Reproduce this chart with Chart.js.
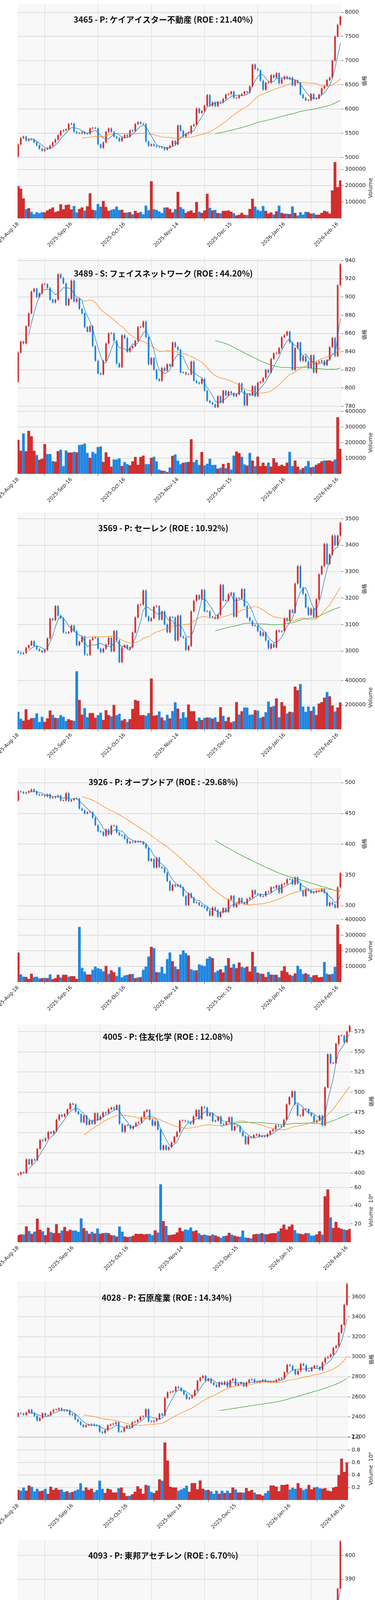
<!DOCTYPE html>
<html><head><meta charset="utf-8">
<script src="https://cdn.jsdelivr.net/npm/chart.js@4.4.1/dist/chart.umd.min.js"></script>
<style>html,body{margin:0;background:#fff}body{position:relative;width:960px;height:6554px;overflow:hidden}.p{position:absolute;left:0;width:960px;height:656px}canvas{display:block}</style>
</head><body>
<script>
// ---------------- DATA ----------------
const titles = [
 "3465 - P: ケイアイスター不動産 (ROE : 21.40%)",
 "3489 - S: フェイスネットワーク (ROE : 44.20%)",
 "3569 - P: セーレン (ROE : 10.92%)",
 "3926 - P: オープンドア (ROE : -29.68%)",
 "4005 - P: 住友化学 (ROE : 12.08%)",
 "4028 - P: 石原産業 (ROE : 14.34%)",
 "4093 - P: 東邦アセチレン (ROE : 6.70%)",
 "4186 - P: 東京応化工業 (ROE : 17.20%)",
 "4272 - P: 日本化薬 (ROE : 7.91%)",
 "4368 - P: 扶桑化学工業 (ROE : 12.19%)"
];
const firstOpen = [5020, 807, 3000, 471, 398, 2405, 345, 4580, 1345, 4500];

const p1Close=[5270,5400,5430,5350,5380,5370,5310,5250,5180,5140,
5170,5190,5240,5310,5370,5460,5545,5560,5580,5690,
5700,5530,5500,5500,5520,5490,5490,5600,5610,5600,
5270,5200,5310,5530,5600,5530,5430,5400,5340,5410,
5460,5430,5560,5545,5690,5730,5700,5690,5330,5240,
5270,5240,5220,5210,5200,5160,5200,5240,5340,5270,
5660,5550,5430,5490,5500,5650,5680,6010,5920,5960,
6070,6290,6070,6140,6060,6150,6140,6210,6300,6310,
6360,6230,6230,6280,6310,6360,6340,6470,6920,6830,
6800,6590,6400,6545,6545,6700,6650,6740,6530,6620,
6670,6630,6650,6490,6590,6540,6300,6230,6180,6180,
6310,6210,6220,6300,6430,6480,6600,6650,7000,7500,
7740,7910];
const p1Vol=[197,181,121,57,62,40,26,38,32,38,
37,48,57,66,38,44,86,54,82,84,
54,76,37,58,66,48,74,152,52,50,
89,72,106,70,46,52,57,73,52,52,
34,36,38,26,46,33,40,25,78,50,
227,57,52,43,33,66,66,57,36,57,
162,70,58,34,43,48,34,100,41,33,
48,150,65,48,52,32,32,46,46,48,
41,32,18,22,34,21,21,57,120,73,
53,46,76,46,29,36,24,42,78,33,
28,29,26,74,33,18,38,24,41,38,
29,32,22,22,33,46,41,29,171,344,
191,232];

const p2Close=[839,851,849,868,882,906,909,900,904,914,
914,910,897,894,897,925,921,915,891,898,
918,895,898,887,882,867,862,868,846,830,
816,815,830,849,860,860,852,827,823,858,
855,840,844,846,852,867,867,873,856,826,
833,820,810,808,822,819,826,824,850,845,
842,817,817,815,815,829,808,806,805,810,
797,786,784,782,779,791,784,797,792,796,
794,791,793,805,797,781,793,792,802,791,
806,807,811,820,817,832,838,838,844,856,
858,862,850,820,844,850,830,835,829,822,
836,817,828,829,830,825,831,845,855,835,
913,936];
const p2Vol=[218,147,259,145,274,240,147,121,89,96,
190,127,127,82,78,145,154,50,150,136,
136,141,137,185,188,194,134,102,141,130,
172,176,76,137,108,46,93,93,100,50,
76,63,54,80,108,58,108,116,63,63,
102,110,80,28,20,20,11,41,115,125,
84,63,71,74,76,221,76,90,58,139,
54,65,97,57,58,33,39,63,37,70,
28,117,143,132,110,61,53,134,84,50,
109,50,71,50,73,46,100,73,50,58,
50,71,141,50,84,46,28,37,50,82,
41,46,58,67,80,86,84,86,80,93,
362,159];

const p3Close=[2994,2990,2993,3012,3022,3037,3019,3007,3001,2996,
3004,3048,3122,3117,3170,3134,3124,3070,3068,3072,
3096,3075,3022,3035,3055,2987,2985,3042,3050,3050,
3009,2996,3009,3025,3050,2999,3076,3040,2958,3014,
3022,3009,3014,3070,3127,3175,3175,3229,3130,3114,
3124,3168,3170,3119,3150,3101,3071,3129,3127,3040,
3134,3055,3050,3004,3019,3150,3190,3211,3196,3231,
3150,3150,3129,3129,3122,3137,3250,3191,3191,3214,
3220,3130,3200,3198,3234,3170,3127,3114,3096,3096,
3075,3058,3070,3040,3010,3027,3014,3078,3073,3075,
3124,3114,3155,3145,3255,3321,3239,3216,3165,3137,
3160,3129,3196,3290,3321,3405,3329,3365,3436,3400,
3436,3485];
const p3Vol=[144,87,70,164,78,91,94,131,61,103,
61,89,153,120,94,92,117,103,70,83,
74,70,476,241,120,174,100,133,133,94,
117,137,76,156,117,106,200,117,128,72,
83,61,83,167,241,233,114,117,113,133,
417,111,114,147,97,74,120,89,150,222,
169,89,141,98,203,148,148,67,97,76,
94,97,97,87,98,61,181,111,67,100,
56,67,222,122,148,180,178,120,122,156,
153,94,102,141,228,183,191,253,100,222,
191,131,144,141,350,320,372,187,144,187,
150,187,117,211,222,259,306,270,194,148,
178,220];

const p4Close=[486,485,483,484,486,489,486,481,480,480,
478,481,475,476,477,479,471,471,483,470,
472,474,474,458,455,450,452,452,443,431,
421,420,414,424,416,430,430,419,415,414,
409,402,404,403,405,404,404,400,394,373,
376,362,378,363,361,354,340,325,334,332,
334,330,316,301,320,313,305,305,301,299,
297,292,284,297,293,282,289,296,290,310,
316,298,303,312,305,303,311,313,325,319,
319,315,316,323,322,330,329,333,321,335,
336,343,343,335,346,336,325,316,327,325,
321,322,324,324,327,321,300,305,302,297,
330,353];
const p4Vol=[189,50,35,32,19,53,32,35,24,24,
28,25,50,18,24,46,30,46,46,35,
37,37,19,354,91,67,48,48,79,100,
89,84,70,103,53,75,63,39,96,31,
43,46,50,52,25,30,31,79,100,164,
226,218,63,63,98,54,148,190,133,100,
82,177,204,186,170,83,75,75,114,108,
103,151,164,153,63,74,81,61,106,153,
92,116,89,125,98,92,98,67,193,101,
60,54,52,32,65,47,47,46,31,72,
101,63,46,41,54,105,83,53,56,50,
32,43,44,30,32,129,53,48,53,98,
368,243];

const p5Close=[398.6,401,400,417,411,417,416,430,441,440,
443,451,449,452,466,472,470,473,479,486,
485,476,473,463,471,460,465,461,474,466,
470,475,474,479,481,479,484,461,451,459,
459,455,458,462,463,469,476,478,466,459,
464,454,429,434,429,432,438,445,451,465,
465,464,463,461,470,478,467,482,481,471,
474,464,465,470,461,460,463,469,453,458,
458,451,446,436,445,444,447,448,445,446,
445,448,452,454,459,458,458,466,485,494,
501,485,471,471,479,479,474,471,463,465,
471,459,506,547,536,536,560,570,570,562,
575,582];
const p5Vol=[7.7,8.4,8.4,17.3,12.4,9.2,11.7,25.8,13.6,12.1,
7.7,15.8,11.1,9.9,19.6,9.9,12.9,16.6,12.1,13.6,
12.9,12.9,11.5,26.2,15.4,12.6,9.2,11.4,9.5,15.1,
9.2,9.9,10.4,9.9,7.7,7.7,6.2,17.3,11.7,6.2,
5.5,6.2,7.0,9.2,8.9,9.2,8.4,8.9,9.2,7.7,
12.9,10.7,63.7,23,18,7.7,8,8.4,10.7,15.8,
12.1,14,13.6,16.3,12.1,12.9,9.9,7.7,8.4,7.7,
7,8.7,7.4,6.2,5,6.7,7,10.2,8.4,7,
6.2,6.2,12.9,5.2,4.7,4.3,8.4,8.9,9.2,9.9,
8.9,8.4,9.5,9.9,9.9,12.1,15.1,19.3,13.9,17,
19.3,13.3,9.9,9.2,8.4,9.9,9.9,7.4,7.4,8.4,
11.9,8.4,50.4,58,27.3,15.6,22.2,15.8,14.7,13.9,
13.2,14.4];

const p6Close=[2435,2432,2420,2442,2470,2436,2410,2362,2388,2435,
2412,2415,2450,2470,2470,2485,2463,2460,2465,2420,
2425,2375,2350,2320,2300,2315,2320,2325,2315,2310,
2250,2240,2265,2315,2325,2330,2345,2250,2255,2290,
2310,2295,2345,2350,2370,2400,2405,2475,2355,2350,
2360,2380,2430,2415,2590,2645,2650,2655,2700,2690,
2660,2625,2580,2590,2610,2665,2760,2790,2810,2760,
2780,2740,2720,2700,2745,2725,2750,2700,2765,2780,
2715,2730,2740,2705,2745,2770,2775,2745,2745,2755,
2770,2755,2750,2750,2750,2770,2780,2785,2845,2920,
2910,2870,2825,2860,2930,2915,2860,2860,2890,2910,
2900,2870,2945,2990,3000,3025,3090,3110,3240,3320,
3520,3730];
const p6Vol=[.16,.15,.2,.15,.23,.21,.14,.18,.14,.15,
.18,.1,.21,.16,.19,.16,.17,.13,.14,.12,
.13,.15,.17,.27,.15,.2,.16,.18,.13,.16,
.31,.18,.11,.18,.17,.12,.12,.19,.2,.11,
.06,.07,.09,.13,.22,.18,.1,.24,.23,.13,
.11,.15,.33,.31,.92,.63,.21,.2,.2,.15,
.17,.19,.23,.13,.27,.27,.17,.31,.18,.16,
.16,.14,.1,.15,.1,.15,.11,.15,.11,.2,
.17,.12,.12,.12,.19,.14,.16,.12,.09,.09,
.07,.11,.15,.23,.23,.21,.14,.24,.24,.25,
.17,.2,.18,.27,.19,.16,.18,.24,.17,.2,
.21,.19,.18,.19,.15,.14,.2,.21,.4,.66,
.45,.6];

const p7Close=[344.3,343.3,344.2,348,350,348,348,349,350,348,
348,349,347,348,351,351,348.5,352,349,352,
363,354,356,357,354.5,356,357,353,358,352,
348,349,349,353,351,352,352,349,345,349,
353,351,352,352,351,352,353,360,357,354.5,
358,356,356,356,360,361,365,358,353,351,
351,349,349,350,350,353,354,354.5,356,358,
358,358,358,358,357,357,357,357,356.5,356,
360,359,358,359,358,358,359,360,359,360,
360,360,359,360,362,364,370,368,368,370,
371,372,372,368,369,375,371,371,368,365,
367,367,368,373,374,376,374,378,378,380,
386,406];
const p7Vol=[57,58,69,48,46,71,49,24,38,24,
15,34,49,15,37,33,34,13,12,10,
118,46,23,51,27,17,69,41,45,76,
25,36,37,10,21,8,11,32,80,41,
25,17,30,50,13,24,67,107,27,29,
33,32,24,41,62,41,62,35,110,79,
32,40,26,37,26,12,10,25,10,23,
10,25,8,6,10,6,10,8,23,8,
36,24,8,24,6,52,30,37,46,43,
28,10,84,40,41,87,31,23,53,20,
65,10,17,20,62,50,40,20,34,37,
46,28,17,40,30,30,65,71,153,61,
71,100];

const p8Close=[4600,4630,4550,4540,4570,4640,4660,4640,4670,4720,
4450,4450,4420,4510,4630,4750,4730,4790,4830,4860,
4920,4750,4860,4850,5010,4930,4950,4850,4800,4790,
4790,4910,4910,4910,4950,4910,5050,4870,4730,4890,
4910,4810,4970,5110,5100,4950,5190,5420,5250,5370,
5460,5620,5800,5640,5840,5760,5860,5730,6180,6300,
6280,6360,5880,5810,5970,5570,5490,5740,5890,5960,
5880,5840,5920,5900,5940,5940,6020,6060,5960,5900,
5730,5540,5600,5490,5600,5840,5880,5840,5820,5800,
5840,5800,6000,6100,6160,6000,6040,6340,6380,6440,
6460,6400,6320,6360,6720,6600,6480,6800,6740,6730,
7280,7270,7600,7680,7410,7450,8430,8230,8330,8330,
8690,8910];
const p8Vol=[.3,.3,.6,.3,.4,.7,.65,.4,.5,.5,
1.05,.62,.6,.58,.45,.4,.6,.4,.5,.5,
.6,.66,.5,.94,.65,.74,.5,.9,.55,.45,
.5,.45,.5,.7,.85,.6,.9,.7,.86,.6,
.5,.45,.6,1.1,.6,.5,.97,1.02,.81,.86,
.86,.7,1.3,1.2,1.25,1.47,1.27,2.08,2.26,.94,
1.18,1.0,1.4,1.1,1.2,1.55,1.01,.83,.6,.62,
.6,.46,.3,.4,.5,.3,.5,.5,.5,.81,
1.52,.95,.62,.6,.97,.78,.4,.4,.35,.4,
.4,.45,.97,.77,.98,.72,.98,.85,.7,.64,
.74,.72,.65,.5,1.29,1.22,.7,1.05,.87,.64,
2.35,2.13,.92,1.05,1.0,.85,3.04,2.17,1.87,1.3,
1.41,1.29];

const p9Close=[1352,1362,1386,1394,1398,1396,1400,1396,1398,1403,
1408,1425,1415,1415,1425,1425,1413,1418,1419,1415,
1417,1408,1408,1406,1396,1384,1389,1396,1398,1384,
1379,1371,1384,1391,1403,1410,1408,1366,1356,1380,
1381,1386,1403,1389,1391,1413,1428,1445,1400,1389,
1413,1410,1408,1403,1405,1420,1425,1415,1487,1485,
1511,1505,1498,1527,1527,1533,1547,1605,1607,1638,
1635,1638,1626,1628,1632,1645,1665,1667,1645,1668,
1666,1670,1681,1681,1686,1678,1696,1690,1678,1694,
1688,1682,1682,1700,1705,1703,1723,1727,1753,1778,
1800,1798,1774,1779,1801,1810,1803,1811,1788,1790,
1797,1797,1795,1837,1827,1845,1857,1867,1872,1857,
1882,1901];
const p9Vol=[.3,.42,.35,.54,.48,.3,.59,.5,.3,.39,
.3,.45,.43,.3,.3,.3,.3,.3,.3,.43,
.3,.3,.3,.8,.51,.43,.43,.52,.5,.46,
.63,.3,.3,.55,.51,.48,.38,.52,.52,.3,
.25,.25,.3,.52,.3,.3,.33,.33,.3,.3,
1.24,.5,.68,.51,.35,.4,.43,.35,1.02,.53,
.83,.5,.67,1.16,.65,.6,.86,.83,.46,.77,
.6,.46,.57,.54,.51,.48,.52,.3,.33,.33,
.44,.37,.33,.49,.52,.56,.3,.25,.3,.42,
.54,.44,.59,.46,.56,.35,.48,.53,.35,.45,
.43,.3,.45,.45,.3,.35,.53,.59,.52,.43,
.6,.65,.95,.54,.35,.4,.38,.3,.45,.48,
.43,.43];

const p10Close=[4540,4590,4580,4610,4630,4650,4670,4660,4690,4650,
4570,4590,4610,4610,4690,4730,4730,4710,4750,4750,
4790,4730,4850,4860,4950,4930,4920,4920,4840,4900,
4780,4880,4990,5090,5180,5130,5260,5120,4970,4990,
4970,4800,4930,4950,4920,4880,4960,5020,4980,4990,
4890,5110,5670,5510,5590,5760,5840,5720,5720,5970,
5830,5890,5660,5590,5680,5570,5630,5930,6050,6280,
6320,6370,6370,6580,6620,6580,6660,6600,6580,6580,
6620,6370,6410,6380,6380,6490,6430,6430,6460,6410,
6380,6390,6440,6490,6590,6540,6480,6720,6740,6800,
7090,7050,6820,7340,7500,7620,7430,7480,7500,7310,
7430,7270,7560,7690,7700,7750,8250,8480,8770,8460,
8560,9080];
const p10Vol=[164,90,80,70,60,70,60,80,226,70,
60,60,60,70,60,70,60,60,70,60,
70,60,80,134,70,70,60,70,80,90,
70,120,80,90,100,110,90,100,171,171,
90,70,80,60,70,80,60,90,100,130,
319,234,557,310,193,100,90,80,70,90,
100,120,160,100,168,140,110,253,195,228,
217,187,160,250,228,121,121,121,203,121,
217,155,217,147,130,90,80,100,131,147,
168,125,120,184,120,140,130,184,180,234,
234,150,210,495,436,500,551,270,151,171,
184,217,151,171,151,168,482,316,226,240,
131,369];

const closes=[p1Close,p2Close,p3Close,p4Close,p5Close,p6Close,p7Close,p8Close,p9Close,p10Close];
const volumes=[p1Vol,p2Vol,p3Vol,p4Vol,p5Vol,p6Vol,p7Vol,p8Vol,p9Vol,p10Vol];
const volMultiplier=[1000,1000,1000,1000,1,1,1000,1,1,1000];

const priceMin=[5000,774.4,2945,277.6,393.3,2193,341.6,4349,1341,4436];
const priceMax=[8168,943,3525,524,584.2,3755,406.6,8993,1911,9209];
const priceStep=[500,20,100,50,25,200,10,1000,100,1000];
const volMax=[373000,400000,522000,401000,69.9,1.0,168000,3.35,1.365,607000];
const volStep=[100000,100000,200000,100000,20,0.2,50000,1,0.5,200000];
const volDecimals=[0,0,0,0,0,1,0,0,1,0];

// ---------------- LAYOUT (px, relative to each panel) ----------------
const L = [
 {top:10.8,split:403,vbot:559,right:874,ty:50,tx:418},
 {top:5.2,split:398,vbot:558,right:874,ty:45,tx:418},
 {top:0,split:393,vbot:556,right:874,ty:41,tx:418},
 {top:0,split:388,vbot:548,right:874,ty:36,tx:418},
 {top:0,split:395,vbot:558,right:898,ty:32,tx:430},
 {top:3.5,split:403,vbot:563,right:891,ty:45,tx:427},
 {top:10.4,split:403,vbot:563,right:874,ty:50,tx:418},
 {top:5.2,split:405,vbot:569,right:889,ty:47,tx:415},
 {top:12.1,split:413,vbot:583,right:889,ty:54,tx:422},
 {top:19,split:414,vbot:573,right:874,ty:59,tx:418}
];
const PANEL_H = 655.4;

// ---------------- DATES ----------------
const MON=['Jan','Feb','Mar','Apr','May','Jun','Jul','Aug','Sep','Oct','Nov','Dec'];
const HOL=new Set(['2025-09-15','2025-09-23','2025-10-13','2025-11-03','2025-11-24','2025-12-31','2026-01-01','2026-01-02','2026-01-12','2026-02-11']);
const dates=[];
{ const d=new Date(Date.UTC(2025,7,18));
  while(dates.length<122){ const w=d.getUTCDay(), iso=d.toISOString().slice(0,10);
    if(w!==0&&w!==6&&!HOL.has(iso)) dates.push(d.getUTCFullYear()+'-'+MON[d.getUTCMonth()]+'-'+String(d.getUTCDate()).padStart(2,'0'));
    d.setUTCDate(d.getUTCDate()+1);} }

const UP='#d62d2d', DOWN='#1e86e0';
function sma(a,n){return a.map((_,i)=>i<n-1?null:a.slice(i-n+1,i+1).reduce((s,v)=>s+v,0)/n);}
function tickList(min,max,step,skipZero){const out=[];const eps=step*1e-6;for(let v=Math.ceil((min-eps)/step)*step;v<=max+eps;v+=step){const r=Math.round(v/step)*step; if(skipZero&&Math.abs(r)<eps)continue; out.push({value:+r.toFixed(6)});}return out;}

const bgPlugin={id:'bg',beforeDraw(c,a,o){const {ctx,chartArea:ca}=c;ctx.save();ctx.fillStyle='#f8f8f8';ctx.fillRect(ca.left,ca.top,ca.right-ca.left,ca.bottom-ca.top);ctx.restore();},
 afterDraw(c,a,o){const {ctx}=c; const cfg=o.cfg; ctx.save();
  ctx.fillStyle='#111'; ctx.font='bold 21px "Noto Sans CJK JP", "DejaVu Sans", sans-serif'; ctx.textAlign='center'; ctx.textBaseline='middle';
  ctx.fillText(cfg.title,cfg.tx,cfg.ty);
  const ys=c.scales.y, vs=c.scales.v;
  ctx.font='13px "Noto Sans CJK JP", sans-serif'; ctx.fillStyle='#222';
  ctx.translate(cfg.big?950:932,(ys.top+ys.bottom)/2); ctx.rotate(-Math.PI/2); ctx.fillText('価格',0,0); ctx.restore();
  ctx.save(); ctx.font='14px "DejaVu Sans", sans-serif'; ctx.fillStyle='#222'; ctx.textAlign='center'; ctx.textBaseline='middle';
  ctx.translate(cfg.big?950:949,(vs.top+vs.bottom)/2); ctx.rotate(-Math.PI/2); ctx.fillText(cfg.big?'Volume  10⁶':'Volume',0,0); ctx.restore();
 }};

for(let k=0;k<10;k++){
  const lay=L[k]; const H=656;
  const div=document.createElement('div'); div.className='p'; div.style.top=Math.round(k*PANEL_H)+'px';
  const cv=document.createElement('canvas'); cv.width=960; cv.height=H; div.appendChild(cv); document.body.appendChild(div);
  const c=closes[k], vol=volumes[k];
  const o=c.map((v,i)=>i===0?firstOpen[k]:c[i-1]);
  const w=(priceMax[k]-priceMin[k])*0.006;
  const col=c.map((v,i)=>v>=o[i]?UP:DOWN);
  const body=c.map((v,i)=>({x:i,y:[o[i],v]}));
  const wick=c.map((v,i)=>({x:i,y:[Math.min(o[i],v)-w,Math.max(o[i],v)+w]}));
  const vbar=vol.map((v,i)=>({x:i,y:v*volMultiplier[k]}));
  const line=(arr,color)=>({type:'line',yAxisID:'y',data:arr.map((v,i)=>({x:i,y:v})),borderColor:color,borderWidth:1.3,pointRadius:0,spanGaps:false,order:0});
  const big=volMultiplier[k]===1;
  const fontT={family:'"DejaVu Sans", sans-serif',size:14};
  const pt=tickList(priceMin[k],priceMax[k],priceStep[k],false);
  const vt=tickList(0,volMax[k],volStep[k],true);
  new Chart(cv,{
    type:'bar',
    data:{datasets:[
      line(sma(c,5),'#1f77b4'),line(sma(c,25),'#ff7f0e'),line(sma(c,75),'#2ca02c'),
      {yAxisID:'y',data:wick,backgroundColor:col,barThickness:1,grouped:false,order:2},
      {yAxisID:'y',data:body,backgroundColor:col,barPercentage:0.62,categoryPercentage:1,grouped:false,minBarLength:1.5,order:1},
      {yAxisID:'v',data:vbar,backgroundColor:col,borderColor:col.map(x=>x===UP?'#b03a3a':'#6fb0ee'),borderWidth:{top:1.2,left:0.6,right:0.6,bottom:0},barPercentage:1,categoryPercentage:1,grouped:false,order:3}
    ]},
    options:{responsive:false,animation:false,devicePixelRatio:1,
      layout:{padding:{top:lay.top,left:45,right:0,bottom:0}},
      plugins:{legend:{display:false},tooltip:{enabled:false},bg:{cfg:{title:titles[k],tx:lay.tx,ty:lay.ty,big}}},
      scales:{
        x:{type:'linear',min:-0.2,max:121.4,offset:false,
          afterBuildTicks:s=>{s.ticks=[0,20,40,60,80,100,120].map(v=>({value:v}));},
          afterFit:s=>{s.height=H-lay.vbot;s.paddingLeft=0;s.paddingRight=0;},
          ticks:{autoSkip:false,maxRotation:45,minRotation:45,callback:v=>dates[v]||'',font:{family:'"DejaVu Sans", sans-serif',size:13},color:'#222',padding:2},
          grid:{color:'#d4d4d4',lineWidth:1,tickLength:5,tickColor:'#333'},border:{display:false}},
        y:{position:'right',stack:'s',stackWeight:lay.split-lay.top,min:priceMin[k],max:priceMax[k],
          afterBuildTicks:s=>{s.ticks=pt.map(t=>({value:t.value}));},
          afterFit:s=>{s.width=960-lay.right;s.paddingTop=0;s.paddingBottom=0;},
          ticks:{autoSkip:false,font:fontT,color:'#222',padding:4,callback:v=>String(v)},
          grid:{color:'#dcdcdc',lineWidth:2,tickLength:5,tickColor:'#333',tickWidth:1},border:{display:false}},
        v:{position:'right',stack:'s',stackWeight:lay.vbot-lay.split,min:0,max:volMax[k],
          afterBuildTicks:s=>{s.ticks=vt.map(t=>({value:t.value}));},
          afterFit:s=>{s.width=960-lay.right;s.paddingTop=0;s.paddingBottom=0;},
          ticks:{autoSkip:false,font:fontT,color:'#222',padding:4,callback:v=>Number(v).toFixed(volDecimals[k])},
          grid:{color:'#dcdcdc',lineWidth:2,tickLength:5,tickColor:'#333',tickWidth:1},border:{display:false}}
      }},
    plugins:[bgPlugin]
  });
}
</script>
</body></html>
